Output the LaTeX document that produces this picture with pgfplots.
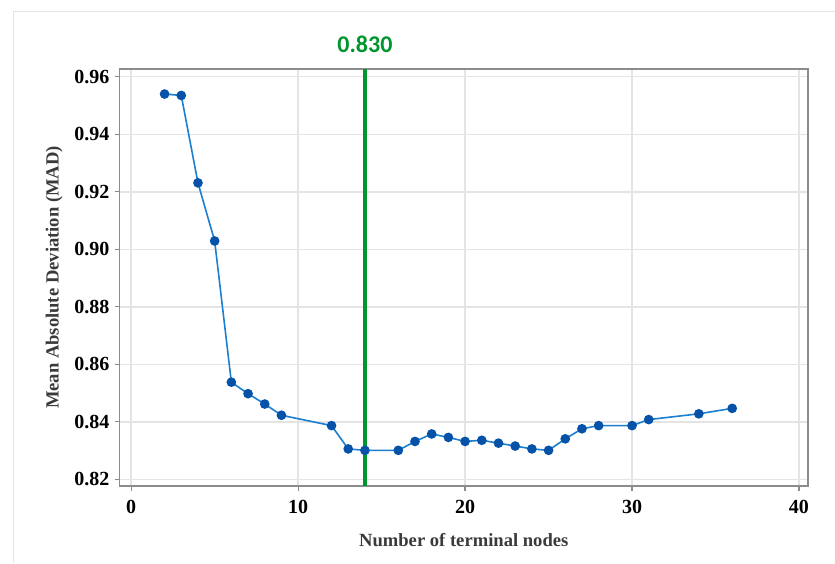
\documentclass[border=0pt]{standalone}
\usepackage{pgfplots}
\pgfplotsset{compat=1.18}
\usepackage{fontspec}
\setmainfont{Liberation Serif}
\newfontfamily\calfont{Carlito}
\definecolor{linecol}{HTML}{1A7FD0}
\definecolor{markcol}{HTML}{0652A8}
\definecolor{vgreen}{HTML}{00962E}
\definecolor{framecol}{HTML}{8C8C8C}
\definecolor{gridcol}{HTML}{E4E4E4}
\definecolor{labcol}{HTML}{3A3A3A}
\begin{document}
\begin{tikzpicture}
\useasboundingbox (0pt,0pt) rectangle (417.5pt,281.5pt);
\draw[color=gridcol, line width=0.9pt] (6.75pt,0pt) -- (6.75pt,275.75pt) -- (417.5pt,275.75pt);
\begin{axis}[
  at={(59.75pt,38.5pt)}, anchor=south west,
  scale only axis, width=344.25pt, height=208.5pt,
  xmin=-0.7, xmax=40.54, ymin=0.8177, ymax=0.9627,
  xtick={0,10,20,30,40},
  ytick={0.82,0.84,0.86,0.88,0.90,0.92,0.94,0.96},
  yticklabel style={xshift=1pt, /pgf/number format/.cd, fixed, fixed zerofill, precision=2},
  /pgf/number format/assume math mode=true,
  ticklabel style={font=\bfseries\fontsize{10}{12}\selectfont, text=black},
  xticklabel style={yshift=-1pt},
  tick align=outside, major tick length=2.5pt,
  tick style={color=framecol, line width=0.6pt},
  xtick pos=bottom, ytick pos=left,
  axis line style={color=framecol, line width=0.8pt},
  grid=major, major grid style={color=gridcol, line width=0.7pt},
  xlabel={Number of terminal nodes},
  ylabel={Mean Absolute Deviation (MAD)},
  label style={font=\bfseries\fontsize{9.3}{11}\selectfont, text=labcol},
  xlabel style={at={(axis description cs:0.5,-0.1295)}, anchor=center},
  ylabel style={at={(axis description cs:-0.095,0.5)}, anchor=center},
  clip=false,
]
\addplot[color=vgreen, line width=1.6pt, forget plot] coordinates {(14,0.8177) (14,0.9627)};
\addplot[color=linecol, line width=0.8pt, mark=*, mark size=2pt,
  mark options={fill=markcol, draw=markcol}] coordinates {
(2,0.9540) (3,0.9535) (4,0.9231) (5,0.9029) (6,0.8538) (7,0.8498)
(8,0.8462) (9,0.8423) (12,0.8387) (13,0.8306) (14,0.8301) (16,0.8301)
(17,0.8332) (18,0.8358) (19,0.8346) (20,0.8332) (21,0.8336) (22,0.8326)
(23,0.8316) (24,0.8306) (25,0.8301) (26,0.8341) (27,0.8376) (28,0.8387)
(30,0.8387) (31,0.8408) (34,0.8428) (36,0.8447)};
\node[text=vgreen, font=\calfont\bfseries\fontsize{12}{14}\selectfont, anchor=south, inner sep=0pt]
  at (axis cs:14,0.9627) [yshift=8pt] {0.830};
\end{axis}
\end{tikzpicture}
\end{document}
